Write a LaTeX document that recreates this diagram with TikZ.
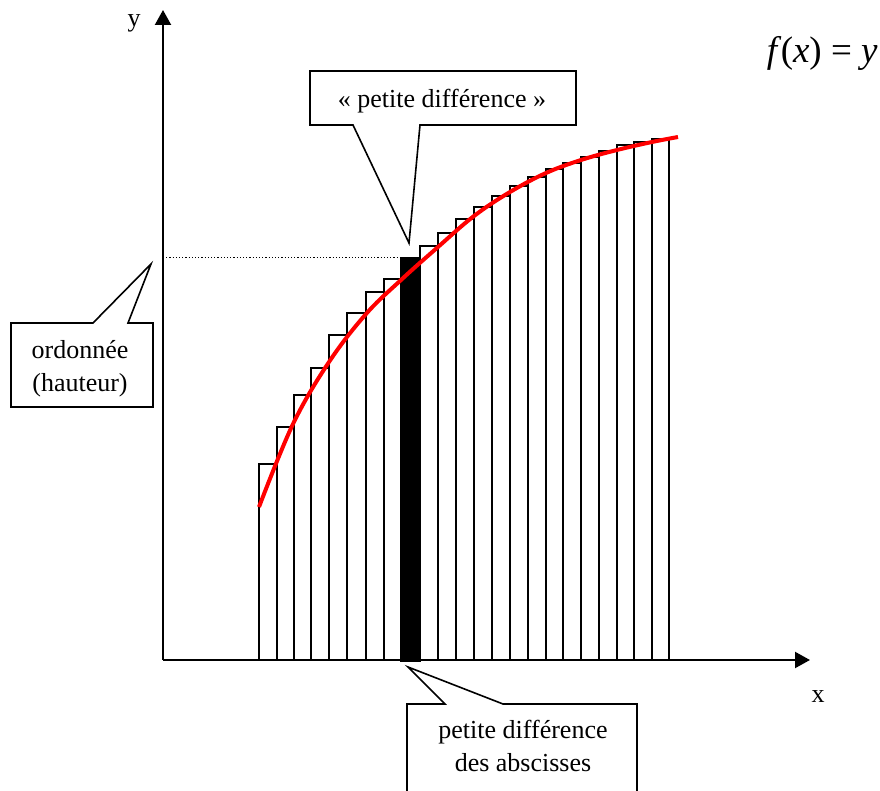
\documentclass[tikz,border=0pt]{standalone}
\usepackage{fontspec}
\setmainfont{Liberation Serif}
\usetikzlibrary{arrows.meta}
\begin{document}
\begin{tikzpicture}[x=0.5pt,y=-0.5pt,
  axisline/.style={line width=1.1pt,-{Triangle[length=7.5pt,width=8pt]}},
  bar/.style={draw,line width=0.8pt,fill=white},
  blackbar/.style={draw,line width=0.8pt,fill=black},
  callout/.style={draw,line width=0.8pt,fill=white,line join=miter},
  lbl/.style={font=\fontsize{13}{16.5}\selectfont,inner sep=0pt,align=center},
  curve/.style={draw=red,line width=2pt},
  guide/.style={line width=0.5pt,dash pattern=on 0.6pt off 1pt}]
\useasboundingbox (0,0) rectangle (880,791);
% bars
\foreach \xa/\xb/\t in {259/277/464,277/294/427,294/311/395,311/329/368,329/347/335,347/366/313,366/384/292,384/401/279,420/438/246,438/456/233,456/474/219,474/492/207,492/510/196,510/528/186,528/546/177,546/563/169,563/581/163,581/599/157,599/617/151,617/634/145,634/652/142,652/669/139}
  {\draw[bar] (\xa,660) rectangle (\xb,\t);}
\draw[blackbar] (401,661) rectangle (420,258);
% axes
\coordinate (O) at (163,660);
\coordinate (ytip) at (163,10);
\coordinate (xtip) at (810,660);
\draw[axisline] (O) -- (ytip);
\draw[axisline] (O) -- (xtip);
\node[lbl,anchor=base] (ylab) at (134,27) {y};
\node[lbl,anchor=base] (xlab) at (818,703) {x};
% dotted guide
\coordinate (hy) at (163,258);
\coordinate (hb) at (401,258);
\draw[guide] (hy) -- (hb);
% curve
\draw[curve] plot[smooth,tension=0.6] coordinates {(259,507) (293,424) (329,362) (366,314) (401,280) (438,247) (474,216) (510,192) (546,173) (581,160) (617,150) (652,142) (678,137)};
% function label
\node[anchor=base east,inner sep=0pt,font=\fontsize{18.5}{22}\selectfont] (flab) at (878,63) {\itshape f\hspace{0.1em}\upshape(\itshape x\upshape) = \itshape y};
% top callout
\draw[callout] (310,71) -- (576,71) -- (576,125) -- (420,125) -- (409,243) -- (353,125) -- (310,125) -- cycle;
\node[lbl,anchor=base] (topc) at (442,108) {« petite différence »};
% left callout
\draw[callout] (11,323) -- (93,323) -- (151,264) -- (128,323) -- (153,323) -- (153,407) -- (11,407) -- cycle;
\node[lbl,anchor=base] (leftc) at (80,391.5) {ordonnée\\(hauteur)};
% bottom callout
\draw[callout] (407,795) -- (407,704) -- (445,704) -- (408,667) -- (503,704) -- (637,704) -- (637,795);
\node[lbl,anchor=base] (botc) at (523,771.5) {petite différence\\des abscisses};
\end{tikzpicture}
\end{document}
